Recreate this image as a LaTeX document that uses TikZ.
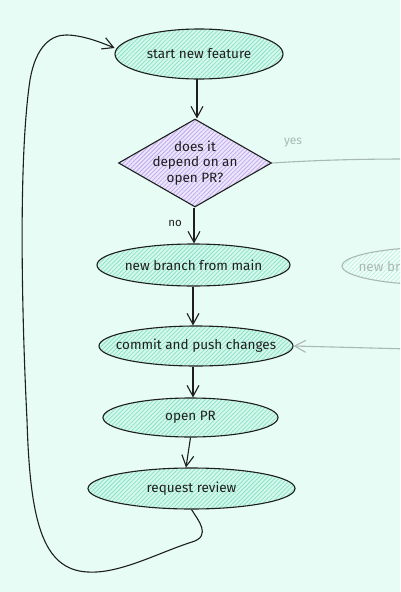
\documentclass[tikz,border=0pt]{standalone}
\usepackage{fontspec}
\setmainfont{Fira Sans}
\usetikzlibrary{shapes.geometric,arrows.meta,patterns.meta}
\definecolor{bgc}{HTML}{E6FCF5}
\definecolor{ink}{HTML}{1E1E1E}
\definecolor{mintfill}{HTML}{D6F7EC}
\definecolor{minthatch}{HTML}{86E3C6}
\definecolor{violetfill}{HTML}{EDE6FB}
\definecolor{violethatch}{HTML}{BCA8EE}
\definecolor{faded}{HTML}{AAB9B4}
\tikzset{
  txt/.style={font=\fontsize{13.5}{15.5}\selectfont, text=ink},
  stepell/.style={ellipse, draw=ink, line width=1.1pt, inner xsep=-40pt, inner ysep=-12pt, txt,
    preaction={fill=mintfill},
    pattern={Lines[angle=45,distance=3pt,line width=0.75pt]}, pattern color=minthatch},
  decide/.style={diamond, draw=ink, line width=1.1pt, inner sep=0pt,
    preaction={fill=violetfill},
    pattern={Lines[angle=45,distance=3pt,line width=0.75pt]}, pattern color=violethatch},
  ghostell/.style={ellipse, draw=faded, line width=1.1pt, inner sep=0pt,
    preaction={fill=bgc!60!white},
    pattern={Lines[angle=45,distance=3pt,line width=0.75pt]}, pattern color=minthatch!45!bgc},
  flow/.style={draw=ink, line width=1.1pt, -{Straight Barb[length=11pt,width=12pt,line width=1.1pt]}},
  ghostflow/.style={draw=faded, line width=1.1pt, -{Straight Barb[length=11pt,width=12pt,line width=1.1pt]}},
  ghostline/.style={draw=faded, line width=1.1pt},
  lbl/.style={font=\fontsize{11.5}{13}\selectfont, text=ink},
}
\begin{document}
\begin{tikzpicture}[x=1pt,y=-1pt]
\useasboundingbox (0,0) rectangle (400,592);
\fill[bgc] (0,0) rectangle (400,592);
\clip (0,0) rectangle (400,592);

% main nodes
\node[stepell, minimum width=168pt, minimum height=50pt] (s) at (199,54) {start new feature};
\node[decide, minimum width=153pt, minimum height=88pt] (d) at (195,163) {};
\node[txt, align=center] (dt) at (d.center) {does it\\depend on an\\open PR?};
\node[stepell, minimum width=193pt, minimum height=42pt] (nb) at (193.5,265) {new branch from main};
\node[stepell, minimum width=194pt, minimum height=40pt] (cp) at (196,346) {commit and push changes};
\node[stepell, minimum width=175pt, minimum height=39pt] (op) at (190.5,417.5) {open PR};
\node[stepell, minimum width=207pt, minimum height=41pt] (rr) at (191.5,488.5) {request review};

% faded partial elements on the right
\node[ghostell, minimum width=196pt, minimum height=38pt] (gb) at (440,266) {};
\node[anchor=west, font=\fontsize{13.5}{16}\selectfont, text=faded] (gbt) at (355,267) {new br};
\coordinate (yesend) at (410,159);
\coordinate (cpin) at (410,349);
\node[font=\fontsize{12}{13}\selectfont, text=faded] (yes) at (293,143) {yes};
\node[lbl] (no) at (175,223) {no};

% connectors
\draw[flow] (s.south -| 197,0) -- (d.north -| 197,0);
\draw[flow] (d.south -| 194,0) -- (nb.north -| 194,0);
\draw[flow] (nb.south -| 193,0) -- (cp.north -| 193,0);
\draw[flow] (cp.south -| 193,0) -- (op.north -| 193,0);
\draw[flow] (op.south) -- (rr.north -| 186,0);
\draw[ghostline] (d.east) .. controls (320,160) and (360,159) .. (yesend);
\draw[ghostflow] (cpin) -- (cp.east);

% loop back
\draw[flow] (rr.south) .. controls (198,520) and (212,536) .. (192,542)
  .. controls (160,552) and (120,574) .. (88,572)
  .. controls (42,570) and (30,520) .. (27,420)
  .. controls (22,320) and (18,160) .. (30,80)
  .. controls (36,45) and (52,35) .. (66,35)
  .. controls (82,35) and (100,42) .. ([yshift=6pt]s.west);
\end{tikzpicture}
\end{document}
